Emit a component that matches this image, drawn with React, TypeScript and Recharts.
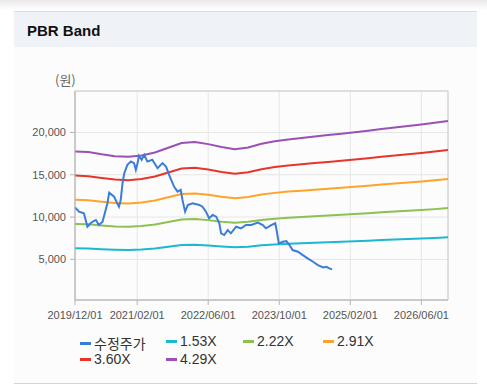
import React from 'react';
import { LineChart, Line, XAxis, YAxis, CartesianGrid, ReferenceArea } from 'recharts';

// month index 0 = 2019/12/01
const tickMonths = [0, 14, 30, 46, 62, 78];
const tickLabels = ['2019/12/01', '2021/02/01', '2022/06/01', '2023/10/01', '2025/02/01', '2026/06/01'];
const yTicks = [5000, 10000, 15000, 20000];

const bandMonths = [0, 3, 6, 9, 12, 15, 18, 21, 24, 27, 30, 33, 36, 39, 42, 45, 48, 51, 54, 57, 60, 63, 66, 69, 72, 75, 78, 81, 84];
const band153 = [6330, 6300, 6210, 6140, 6100, 6170, 6290, 6490, 6690, 6730, 6640, 6520, 6430, 6500, 6660, 6760, 6840, 6900, 6960, 7020, 7080, 7150, 7210, 7280, 7340, 7410, 7470, 7540, 7620];
const band222 = [9190, 9150, 9010, 8900, 8860, 8950, 9120, 9410, 9700, 9770, 9640, 9460, 9320, 9440, 9660, 9810, 9920, 10010, 10100, 10190, 10280, 10370, 10460, 10570, 10660, 10750, 10830, 10940, 11060];
const band291 = [12050, 11990, 11820, 11670, 11610, 11730, 11960, 12340, 12720, 12800, 12630, 12400, 12220, 12370, 12660, 12860, 13010, 13120, 13240, 13360, 13470, 13590, 13710, 13850, 13970, 14080, 14200, 14350, 14490];
const band360 = [14900, 14830, 14620, 14440, 14360, 14510, 14800, 15260, 15730, 15840, 15620, 15340, 15120, 15300, 15660, 15910, 16090, 16240, 16380, 16520, 16670, 16810, 16960, 17140, 17280, 17420, 17570, 17750, 17930];
const band429 = [17760, 17680, 17420, 17200, 17120, 17290, 17630, 18190, 18750, 18880, 18620, 18280, 18020, 18230, 18660, 18960, 19180, 19350, 19520, 19690, 19860, 20030, 20210, 20420, 20590, 20760, 20940, 21150, 21360];

const priceMonths = [0, 0.9, 2, 2.8, 3.5, 4.1, 4.7, 5.4, 6.2, 6.5, 7.3, 7.7, 8.8, 9.5, 9.9, 10.3, 10.7, 11.1, 11.8, 12.6, 13.3, 13.7, 14.1, 14.4, 15, 15.6, 16.3, 17.4, 18.6, 19.7, 20.5, 21.2, 22.3, 23.1, 23.8, 24.2, 24.8, 25.4, 26.5, 28, 28.7, 29.5, 30.2, 31, 31.8, 32.5, 32.9, 33.6, 34.4, 35.1, 36.3, 37.4, 38.5, 39.7, 41.2, 42.3, 43, 44.2, 45.1, 45.4, 45.9, 46.8, 47.6, 48.3, 49, 50.2, 51.3, 52.4, 53.6, 54.7, 55.9, 56.6, 57.3, 57.9];
const priceValues = [11150, 10640, 10450, 8860, 9270, 9500, 9660, 9060, 9460, 10050, 11640, 12890, 12420, 11640, 11230, 12030, 14000, 15190, 16170, 16560, 16380, 15580, 16380, 17240, 16770, 17360, 16560, 16770, 15780, 16380, 15970, 14990, 13600, 13010, 13210, 12030, 10640, 11430, 11640, 11430, 11230, 10640, 9860, 10250, 10050, 9270, 8080, 7880, 8470, 8080, 8860, 8670, 9060, 9060, 9340, 9060, 8670, 9060, 9270, 8470, 6900, 7090, 7170, 6690, 6100, 5900, 5510, 5120, 4720, 4330, 4050, 4120, 3930, 3820];

const series = [
  { key: 'price', name: '수정주가', color: '#3a7dd8' },
  { key: 'b153', name: '1.53X', color: '#1bb8cf' },
  { key: 'b222', name: '2.22X', color: '#8cc152' },
  { key: 'b291', name: '2.91X', color: '#ffa32a' },
  { key: 'b360', name: '3.60X', color: '#e5352d' },
  { key: 'b429', name: '4.29X', color: '#9c50b6' },
];

const bandData = bandMonths.map((m, i) => ({
  m,
  b153: band153[i],
  b222: band222[i],
  b291: band291[i],
  b360: band360[i],
  b429: band429[i],
}));
const priceData = priceMonths.map((m, i) => ({ m, price: priceValues[i] }));

const legendPos = [
  { left: 80, top: 333 },
  { left: 166, top: 333 },
  { left: 243, top: 333 },
  { left: 323, top: 333 },
  { left: 80, top: 351 },
  { left: 166, top: 351 },
];

const font = '"Liberation Sans", Arial, "Noto Sans CJK KR", sans-serif';

const App = () => {
  return (
    <div style={{ position: 'fixed', left: 0, top: 0, width: 487, height: 387, background: '#fff', fontFamily: font, overflow: 'hidden' }}>
      <div style={{ position: 'absolute', left: 0, top: 0, width: 487, height: 10, background: 'linear-gradient(#e9e9e9, #fff)' }} />
      <div style={{ position: 'absolute', left: 14, top: 47, width: 463, height: 336, background: '#fcfcfc', borderBottom: '1px solid #d5d5d5' }} />
      <div style={{ position: 'absolute', left: 14, top: 11, width: 463, height: 36, background: '#eff2f6', borderTop: '1px solid #d8dce2', boxSizing: 'border-box' }}>
        <div style={{ position: 'absolute', left: 13, top: 10, fontSize: 15, fontWeight: 'bold', color: '#111' }}>PBR Band</div>
      </div>
      <div style={{ position: 'absolute', left: 55, top: 70, fontSize: 13, color: '#666', fontFamily: '"Noto Sans CJK KR", sans-serif' }}>(원)</div>
      <div style={{ position: 'absolute', left: 0, top: 0 }}>
        <LineChart width={487} height={387} data={bandData} margin={{ top: 91, right: 39, bottom: 57, left: 15 }}>
          <CartesianGrid stroke="#e6e6e6" />
          <XAxis
            dataKey="m"
            type="number"
            domain={[0, 84]}
            ticks={tickMonths}
            tickFormatter={(v: number) => tickLabels[tickMonths.indexOf(v)]}
            interval={0}
            height={30}
            stroke="#b5b5b5"
            tickSize={5}
            tickMargin={6}
            tick={{ fill: '#555', fontSize: 11, fontFamily: font }}
          />
          <YAxis
            type="number"
            domain={[200, 24900]}
            ticks={yTicks}
            tickFormatter={(v: number) => v.toLocaleString('en-US')}
            width={60}
            stroke="#b5b5b5"
            tickSize={5}
            tickMargin={4}
            tick={{ fill: '#555', fontSize: 11, fontFamily: font }}
          />
          <ReferenceArea x1={0} x2={84} y1={200} y2={24900} fill="none" stroke="#cccccc" ifOverflow="visible" />
          {series.slice(1).map((s) => (
            <Line key={s.key} dataKey={s.key} name={s.name} stroke={s.color} strokeWidth={2} dot={false} type="linear" isAnimationActive={false} />
          ))}
          <Line data={priceData} dataKey="price" name="수정주가" stroke={series[0].color} strokeWidth={2} dot={false} type="linear" isAnimationActive={false} />
        </LineChart>
      </div>
      {series.map((s, i) => (
        <div key={s.key} style={{ position: 'absolute', left: legendPos[i].left, top: legendPos[i].top, display: 'flex', alignItems: 'center', fontSize: 14, color: '#333', whiteSpace: 'nowrap' }}>
          <span style={{ display: 'inline-block', width: 11, height: 3, background: s.color, marginRight: 3 }} />
          <span>{s.name}</span>
        </div>
      ))}
    </div>
  );
};

export default App;
